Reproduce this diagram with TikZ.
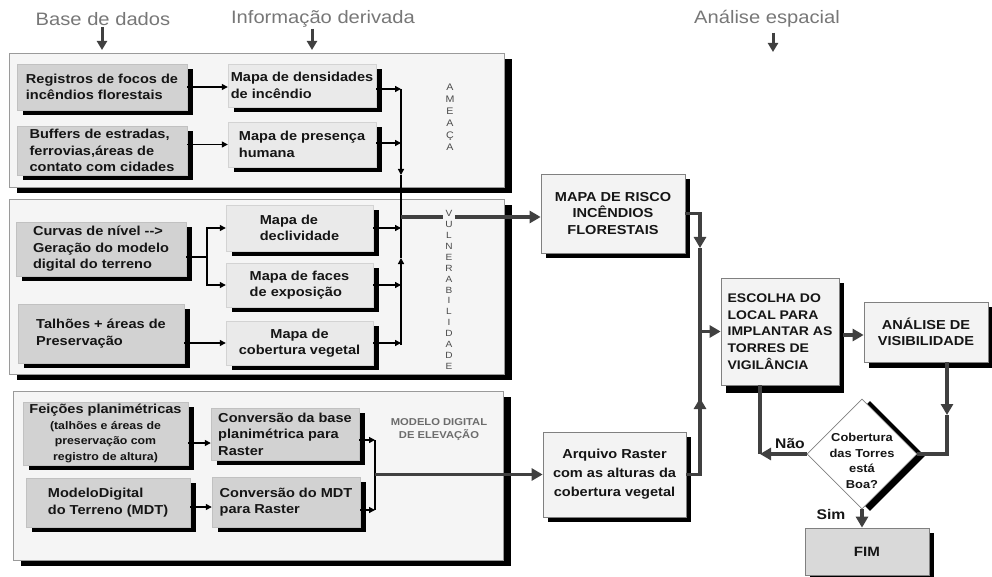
\documentclass[tikz,border=0pt]{standalone}
\usepackage{fontspec}
\setmainfont{Liberation Sans}[FakeStretch=1.12]
\usetikzlibrary{shapes.geometric,arrows.meta,shadows,calc}
\definecolor{panelbg}{HTML}{F5F5F5}
\definecolor{panelline}{HTML}{9A9A9A}
\definecolor{boxdark}{HTML}{D2D2D2}
\definecolor{boxlight}{HTML}{EAEAEA}
\definecolor{flowbg}{HTML}{F3F3F3}
\definecolor{flowc}{HTML}{404040}
\definecolor{labgray}{HTML}{777777}
\definecolor{stackc}{HTML}{4A4A4A}
\definecolor{txt}{HTML}{151515}
\newcommand\bxfont{\fontsize{13}{16.5}\selectfont\bfseries}
\newcommand\smfont{\fontsize{11}{15.5}\selectfont\bfseries}
\newcommand\rtfont{\fontsize{13}{16.5}\selectfont\bfseries}
\newcommand\difont{\fontsize{11.5}{15.7}\selectfont\bfseries}
\newcommand\tlfont{\fontsize{18}{20}\selectfont}
\newcommand\stfont{\fontsize{9.5}{12}\selectfont}
\newcommand\stvfont{\fontsize{9}{10.9}\selectfont}
\begin{document}
\begin{tikzpicture}[x=1pt,y=-1pt,
  panel/.style={draw=panelline, fill=panelbg, line width=0.8pt, inner sep=0pt,
    drop shadow={shadow xshift=8pt, shadow yshift=-6pt, fill=black, opacity=1}},
  dkbox/.style={fill=boxdark, draw=boxdark!92!black, line width=0.4pt, font=\bxfont,
    text=txt, align=left, inner sep=0pt,
    drop shadow={shadow xshift=6pt, shadow yshift=-5pt, fill=black, opacity=1}},
  ltbox/.style={dkbox, fill=boxlight, draw=boxlight!90!black},
  flowbox/.style={fill=flowbg, draw=gray, line width=0.7pt, font=\rtfont, text=txt,
    align=center, inner sep=0pt,
    drop shadow={shadow xshift=5pt, shadow yshift=-5pt, fill=black, opacity=1}},
  toplab/.style={font=\tlfont, text=labgray, inner sep=1pt},
  stack/.style={align=center, text=stackc, inner sep=2pt},
  lbl/.style={font=\fontsize{14}{16}\selectfont\bfseries, text=txt, inner sep=0pt},
  thinline/.style={draw=black, line width=1.3pt},
  thinarrow/.style={thinline, -{Triangle[length=6pt,width=6pt]}},
  flow/.style={draw=flowc, line width=3.5pt},
  flowarrow/.style={flow, -{Triangle[length=11pt,width=12pt]}},
  labarrow/.style={draw=flowc, line width=3pt, -{Triangle[length=9pt,width=10pt]}}
]
\useasboundingbox (0,0) rectangle (992,577);

% ---------- top labels ----------
\node[toplab] (lbase) at (103,19) {Base de dados};
\node[toplab] (linfo) at (323,19) {Informação derivada};
\node[toplab] (lanal) at (767,19) {Análise espacial};
\coordinate (abase) at (102,50);
\coordinate (ainfo) at (312,50);
\coordinate (aanal) at (773,52);
\draw[labarrow] (abase |- lbase.south) -- (abase);
\draw[labarrow] (ainfo |- linfo.south) -- (ainfo);
\draw[labarrow] ($(aanal |- lanal.south)+(0,4)$) -- (aanal);

% ---------- panels ----------
\node[panel, minimum width=495pt, minimum height=134pt] (p1) at (256.5,120) {};
\node[panel, minimum width=495pt, minimum height=175pt] (p2) at (256.5,286.5) {};
\node[panel, minimum width=490pt, minimum height=169pt] (p3) at (258,475.5) {};

% ---------- panel 1 ----------
\node[dkbox, minimum width=170pt, minimum height=46pt] (reg) at (102,87) {Registros de focos de\\incêndios florestais};
\node[ltbox, minimum width=148pt, minimum height=43pt] (dens) at (302,85.5) {Mapa de densidades\\de incêndio};
\node[dkbox, minimum width=170pt, minimum height=49pt] (buf) at (102,150.5) {Buffers de estradas,\\ferrovias,áreas de\\contato com cidades};
\node[ltbox, minimum width=148pt, minimum height=45pt] (pres) at (302,144.5) {Mapa de presença\\humana};
\node[stack, font=\stfont] (amea) at (450,117) {A\\M\\E\\A\\Ç\\A};

\draw[thinarrow] (reg.east) -- (reg.east -| dens.west);
\draw[thinarrow] (buf.east |- pres.west) -- (pres.west);
\coordinate (b1) at (401,89);
\coordinate (b2) at (401,143);
\coordinate (bj) at (401,217);
\draw[thinarrow] (dens.east |- b1) -- (b1);
\draw[thinarrow] (pres.east |- b2) -- (b2);
\draw[thinarrow] (b1) -- (401,175);
\draw[thinline] (401,175) -- (bj);

% ---------- panel 2 ----------
\node[dkbox, minimum width=170pt, minimum height=54pt] (curv) at (101,249) {Curvas de nível -{}-{}>\\Geração do modelo\\digital do terreno};
\node[ltbox, minimum width=147pt, minimum height=46pt] (decl) at (299.5,228) {Mapa de\\declividade};
\node[ltbox, minimum width=147pt, minimum height=44pt] (faces) at (299.5,285) {Mapa de faces\\de exposição};
\node[dkbox, minimum width=166pt, minimum height=59pt] (talh) at (101,333.5) {Talhões + áreas de\\Preservação};
\node[ltbox, align=center, minimum width=147pt, minimum height=44pt] (cob) at (299.5,343) {Mapa de\\cobertura vegetal};
\node[stack, font=\stvfont] (vuln) at (449,290) {V\\U\\L\\N\\E\\R\\A\\B\\I\\L\\I\\D\\A\\D\\E};

\coordinate (split) at (207,257);
\coordinate (bb) at (401,345);
\draw[thinline] (curv.east |- split) -- (split);
\draw[thinarrow] (split) |- (decl.west);
\draw[thinarrow] (split) |- (faces.west);
\draw[thinarrow] (talh.east |- cob.west) -- (cob.west);
\draw[thinarrow] (decl.east) -- (decl.east -| bb);
\draw[thinarrow] (faces.east) -- (faces.east -| bb);
\draw[thinarrow] (cob.east) -- (cob.east -| bb);
\draw[thinarrow] (bb) -- (401,258);
\draw[thinline] (401,258) -- (bj);

% ---------- panel 3 ----------
\node[dkbox, align=center, font=\smfont, minimum width=165pt, minimum height=63pt] (feic) at (105.5,433.5) {{\bxfont Feições planimétricas}\\(talhões e áreas de\\preservação com\\registro de altura)};
\node[dkbox, minimum width=148pt, minimum height=52pt] (conv1) at (285,434) {Conversão da base\\planimétrica para\\Raster};
\node[dkbox, minimum width=164pt, minimum height=49pt] (mdt) at (108,502.5) {ModeloDigital\\do Terreno (MDT)};
\node[dkbox, minimum width=148pt, minimum height=50pt] (conv2) at (286,502) {Conversão do MDT\\para Raster};
\node[align=center, text=gray!85!black, font=\fontsize{10}{13}\selectfont\bfseries, inner sep=0pt] (mde) at (439,429.5) {MODELO DIGITAL\\DE ELEVAÇÃO};

\draw[thinarrow] ($(feic.east)+(0,9.5)$) -- ($(conv1.west)+(0,9)$);
\draw[thinarrow] ($(mdt.east)+(0,4.5)$) -- ($(conv2.west)+(0,5)$);
\coordinate (c1) at (375,440);
\coordinate (c2) at (375,510);
\coordinate (cm) at (375,474.5);
\draw[thinarrow] (conv1.east |- c1) -- (c1);
\draw[thinarrow] (conv2.east |- c2) -- (c2);
\draw[thinline] (c1) -- (c2);

% ---------- right side ----------
\node[flowbox, minimum width=144pt, minimum height=79pt] (risco) at (613,213.5) {MAPA DE RISCO\\INCÊNDIOS\\FLORESTAIS};
\node[flowbox, font=\fontsize{13}{19}\selectfont\bfseries, minimum width=143pt, minimum height=85pt] (raster) at (614.5,474.5) {Arquivo Raster\\com as alturas da\\cobertura vegetal};
\node[flowbox, align=left, font=\fontsize{12.5}{16.7}\selectfont\bfseries, minimum width=118pt, minimum height=107pt,
  drop shadow={shadow xshift=5pt, shadow yshift=-8pt, fill=black, opacity=1}] (esc) at (780,331.5) {ESCOLHA DO\\LOCAL PARA\\IMPLANTAR AS\\TORRES DE\\VIGILÂNCIA};
\node[flowbox, minimum width=124pt, minimum height=60pt,
  drop shadow={shadow xshift=5pt, shadow yshift=-6pt, fill=black, opacity=1}] (anal) at (926,332) {ANÁLISE DE\\VISIBILIDADE};
\node[diamond, aspect=1, minimum width=110pt, minimum height=110pt, inner sep=0pt,
  fill=white, draw=gray, line width=0.6pt,
  drop shadow={shadow xshift=8pt, shadow yshift=-2pt, fill=black, opacity=1}] (dia) at (862,454) {};
\node[align=center, font=\difont, text=txt, inner sep=0pt] (diat) at (862,461) {Cobertura\\das Torres\\está\\Boa?};
\node[flowbox, fill=boxdark!85!white, font=\fontsize{13.5}{16}\selectfont\bfseries, minimum width=124pt, minimum height=47pt] (fim) at (867,551.5) {FIM};

% flow connectors
\draw[flow] (bj) -- (vuln.west |- bj);
\draw[flowarrow] (vuln.east |- bj) -- (risco.west |- bj);
\draw[flow] (cm) -- (p3.east |- cm);
\draw[flowarrow] (p3.east |- cm) -- (raster.west);

\coordinate (vt) at (700,213.5);
\coordinate (vb) at (700,474.5);
\coordinate (vm) at (700,331.5);
\draw[flowarrow] (risco.east) -- (vt) -- (700,248);
\draw[flow] (700,248) -- (vb);
\draw[flowarrow] (raster.east) -- (vb) -- (700,398);
\draw[flowarrow] (vm) -- (esc.west);
\draw[flowarrow] ($(esc.east)+(4,3.5)$) -- ($(esc.east -| anal.west)+(0,3.5)$);

\coordinate (ax) at (947,454);
\draw[flowarrow] (anal.south -| ax) -- (947,415);
\draw[flow] (947,415) -- (ax) -- (dia.east);

\coordinate (nx) at (760,454);
\draw[flow] (nx |- esc.south) -- (nx);
\draw[flowarrow] (dia.west) -- (nx);
\draw[flowarrow] (dia.south) -- (dia.south |- fim.north);

\node[lbl] (nao) at (790,444) {Não};
\node[lbl] (sim) at (831,514) {Sim};
\end{tikzpicture}
\end{document}
